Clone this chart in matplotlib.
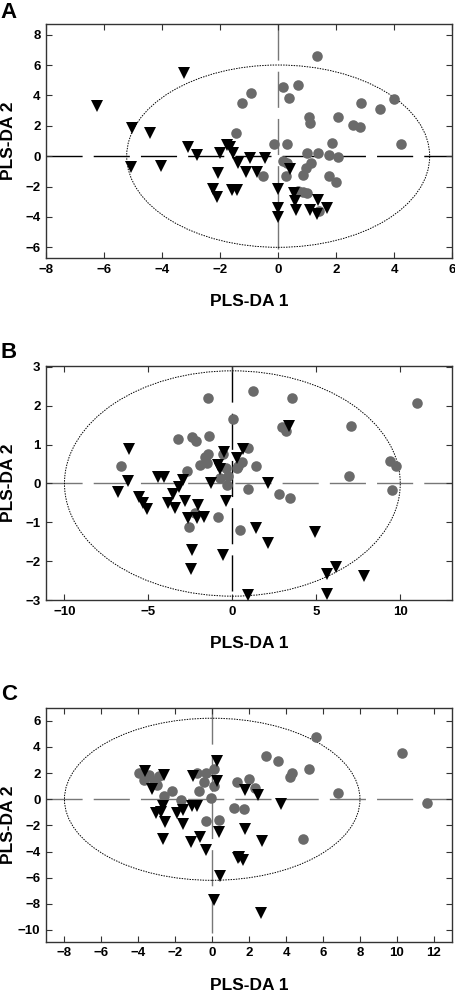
import matplotlib
matplotlib.use('Agg')
import matplotlib.pyplot as plt
from matplotlib.patches import Ellipse

plt.rcParams['font.family'] = ['Liberation Sans', 'DejaVu Sans']
plt.rcParams['font.weight'] = 'bold'

# Panel A scores
a_circ_x = [-1.23, -1.47, 1.34, 0.15, 0.70, 0.36, -0.94, 2.85, 3.98, 3.52, 1.05, 1.09,
            2.06, 2.59, 2.82, 4.24, -0.16, 0.30, 1.86, 1.00, 1.36, 1.75, 2.06, 0.16,
            0.30, 1.13, 0.97, 0.86, 0.27, -0.53, 1.75, 1.98, 0.70, 1.00, 0.85, 1.40]
a_circ_y = [3.52, 1.55, 6.58, 4.54, 4.66, 3.84, 4.13, 3.52, 3.74, 3.08, 2.60, 2.20,
            2.60, 2.03, 1.90, 0.83, 0.81, 0.81, 0.85, 0.24, 0.20, 0.09, -0.07, -0.35,
            -0.46, -0.46, -0.79, -1.23, -1.29, -1.29, -1.29, -1.69, -2.28, -2.43, -2.35, -3.63]
a_tri_x = [-3.23, -6.26, -5.02, -4.42, -3.11, -2.79, -5.07, -4.03, -2.07, -2.25, -2.11,
           -1.78, -2.01, -1.57, -1.59, -1.43, -1.38, -1.65, -0.97, -0.47, -1.12, -0.72,
           0.42, 0.01, 0.53, 0.57, 0.01, -0.02, 0.63, 1.09, 1.38, 1.34, 1.69]
a_tri_y = [5.48, 3.30, 1.88, 1.51, 0.63, 0.09, -0.72, -0.64, -1.11, -2.14, -2.71,
           0.72, 0.24, 0.24, -2.21, -2.25, -0.42, 0.60, -0.13, -0.13, -1.07, -1.07,
           -0.85, -2.17, -2.43, -2.93, -3.41, -4.00, -3.57, -3.52, -2.87, -3.80, -3.41]

# Panel B scores
b_circ_x = [-1.43, 0.06, -3.21, -2.42, -2.16, -1.39, -6.64, -2.71, -1.43, -1.63, -1.92,
            -1.52, -0.54, -0.73, -0.38, -0.33, -0.24, 0.30, -0.83, -2.22, -2.58, 0.46,
            1.25, 3.54, 10.98, 2.94, 3.18, 7.05, 0.95, 0.56, 0.36, 1.41, 9.39, 9.74,
            6.97, 0.95, 9.49, 2.80, 3.43]
b_circ_y = [2.19, 1.65, 1.14, 1.20, 1.09, 1.21, 0.45, 0.33, 0.75, 0.67, 0.48,
            0.54, 0.77, 0.15, 0.41, -0.04, 0.20, 0.41, -0.87, -0.77, -1.11, -1.20,
            2.39, 2.20, 2.08, 1.45, 1.35, 1.47, 0.92, 0.56, 0.44, 0.45, 0.58, 0.45,
            0.20, -0.13, -0.17, -0.26, -0.37]
b_tri_x = [-6.13, -6.19, -6.79, -5.54, -5.33, -5.10, -4.40, -4.10, -2.92, -3.17, -3.51,
           -3.81, -3.41, -2.82, -2.02, -2.62, -2.08, -1.68, -1.29, -0.83, -0.73, -0.49,
           0.26, -0.38, -2.42, -2.46, -0.54, 3.39, 0.65, 2.10, 1.41, 2.14, 4.90, 6.17,
           5.65, 7.86, 5.65, 0.92]
b_tri_y = [0.88, 0.07, -0.23, -0.36, -0.49, -0.66, 0.17, 0.17, 0.09, -0.08, -0.26,
           -0.49, -0.63, -0.44, -0.55, -0.89, -0.89, -0.87, 0.02, 0.48, 0.37, 0.81,
           0.65, -0.46, -1.71, -2.20, -1.85, 1.48, 0.90, 0.00, -1.14, -1.54, -1.26, -2.15,
           -2.34, -2.37, -2.85, -2.88]

# Panel C scores
c_circ_x = [-3.98, -3.71, -3.40, -3.17, -2.98, -2.89, -2.62, -2.17, -1.68, -0.81, -0.36,
            0.09, -0.42, 0.09, -0.73, -0.05, -0.36, 0.38, 1.36, 1.17, 5.60, 2.89, 3.56,
            5.24, 4.34, 4.19, 1.98, 2.31, 6.83, 10.30, 11.65, 1.71, 4.93]
c_circ_y = [2.02, 1.46, 1.89, 1.38, 1.12, 1.81, 0.23, 0.61, -0.07, 2.02, 2.02,
            2.32, 1.30, 0.99, 0.61, 0.10, -1.68, -1.60, 1.33, -0.66, 4.77, 3.29, 2.96,
            2.32, 2.02, 1.71, 1.56, 0.87, 0.49, 3.55, -0.28, -0.73, -3.03]
c_tri_x = [-3.62, -2.62, -3.25, -3.02, -2.66, -2.80, -2.53, -2.66, -1.93, -1.57, -1.57,
           -1.08, -0.81, -1.14, -0.67, -0.36, -1.03, 0.27, 0.27, 0.36, 0.41, 0.09, 1.39,
           1.80, 2.47, 3.70, 1.77, 2.67, 1.44, 1.68, 2.62]
c_tri_y = [2.14, 1.89, 0.80, -1.04, -0.53, -0.97, -1.73, -3.03, -1.04, -0.84, -1.86,
           -0.48, -0.48, -3.29, -2.91, -3.85, 1.76, 2.96, 1.43, -2.52, -5.84, -7.73, -4.48,
           0.69, 0.36, -0.40, -2.27, -3.16, -4.41, -4.67, -8.69]

# Hotelling ellipse half axes
a_ell = [5.22, 6.0]
b_ell = [10.0, 2.9]
c_ell = [8.0, 6.2]

fig = plt.figure(figsize=(4.56, 9.91), dpi=100)

def panel(rect, letter, letter_y, cx, cy, tx, ty, ell, xlim, ylim, xticks, yticks, hcol, vcol):
    ax = fig.add_axes(rect)
    ax.set_xlim(xlim)
    ax.set_ylim(ylim)
    # centre lines, dashes start at the left / top edge
    ax.plot([xlim[0], xlim[1]], [0, 0], color=hcol, lw=1.0, dashes=(26, 8), zorder=1)
    ax.plot([0, 0], [ylim[1], ylim[0]], color=vcol, lw=1.0, dashes=(26, 8), zorder=1)
    ax.add_patch(Ellipse((0, 0), 2 * ell[0], 2 * ell[1], fill=False, ec='black',
                         lw=0.7, ls=(0, (1.5, 1.2)), zorder=2))
    ax.plot(cx, cy, 'o', color='#6a6a6a', ms=7.6, mew=0, ls='none', zorder=3)
    ax.plot(tx, ty, 'v', color='black', ms=8.3, mew=0, ls='none', zorder=4)
    ax.set_xticks(xticks)
    ax.set_yticks(yticks)
    ax.tick_params(direction='in', length=4, width=0.8, top=True, right=True,
                   labelsize=9.5, pad=4, color='#333333')
    for s in ax.spines.values():
        s.set_color('#333333')
        s.set_linewidth(1.0)
    ax.set_xlabel('PLS-DA 1', fontsize=12.5, fontweight='bold')
    ax.set_ylabel('PLS-DA 2', fontsize=12.5, fontweight='bold')
    ax.xaxis.set_label_coords(0.5, -0.185)
    ax.yaxis.set_label_coords(-0.092, 0.5)
    ax.xaxis.label.set_va('center')
    ax.yaxis.label.set_va('center')
    fig.text(0.002, letter_y, letter, fontsize=16, fontweight='bold', va='top', ha='left')
    return ax

panel([0.1009, 0.7397, 0.891, 0.2361], 'A', 0.998, a_circ_x, a_circ_y, a_tri_x, a_tri_y,
      a_ell, (-8, 6), (-6.7, 8.7), range(-8, 7, 2), range(-6, 9, 2), 'black', '#777777')
panel([0.1009, 0.3945, 0.891, 0.2364], 'B', 0.655, b_circ_x, b_circ_y, b_tri_x, b_tri_y,
      b_ell, (-11.1, 13.1), (-3.0, 3.03), [-10, -5, 0, 5, 10], range(-3, 4), '#777777', 'black')
panel([0.1009, 0.0497, 0.891, 0.2361], 'C', 0.31, c_circ_x, c_circ_y, c_tri_x, c_tri_y,
      c_ell, (-9, 13), (-10.9, 7.0), range(-8, 13, 2), range(-10, 7, 2), '#777777', '#777777')

plt.savefig('out.png', dpi=100)
